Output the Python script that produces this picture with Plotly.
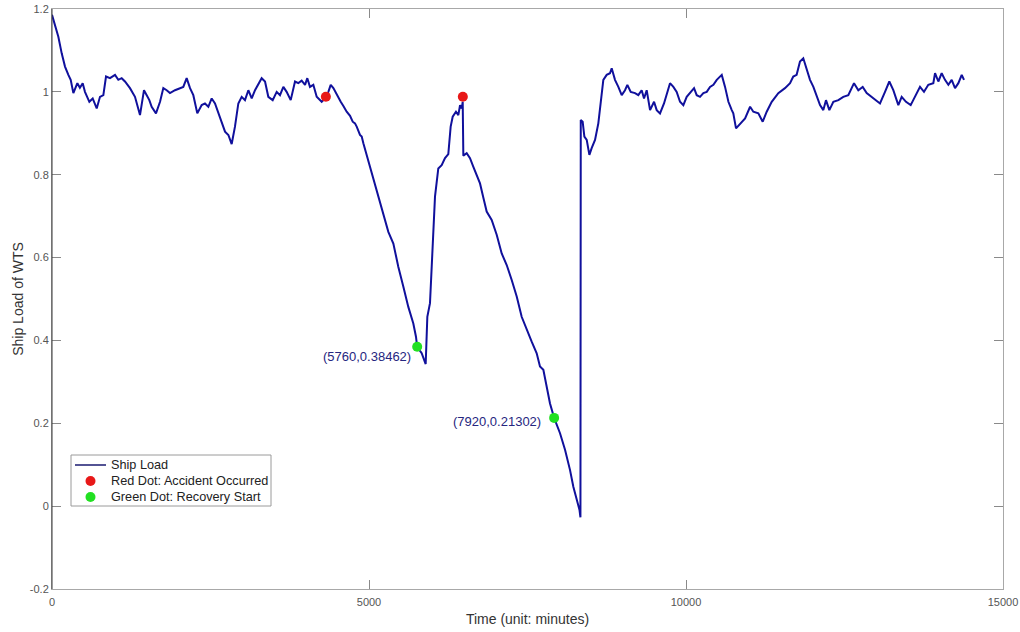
import plotly.graph_objects as go

# Ship load time series (minutes, load of WTS)
time_min = [
    0, 47, 100, 153, 205, 258, 295, 337, 370, 400, 440, 484, 520, 589, 642, 705, 757, 810, 852, 915,
    994, 1046, 1099, 1151, 1230, 1309, 1388, 1451, 1494, 1535, 1572, 1640, 1704, 1756, 1809, 1861,
    1940, 2019, 2071, 2124, 2177, 2229, 2292, 2361, 2413, 2466, 2519, 2571, 2624, 2676, 2729, 2782,
    2834, 2886, 2939, 2992, 3044, 3097, 3150, 3202, 3254, 3307, 3360, 3412, 3481, 3544, 3596, 3649,
    3701, 3765, 3833, 3885, 3938, 3991, 4027, 4069, 4122, 4175, 4254, 4306, 4359, 4396, 4438, 4480,
    4517, 4554, 4596, 4648, 4701, 4743, 4779, 4806, 4858, 4885, 4911, 4964, 5016, 5068, 5147, 5226,
    5305, 5384, 5462, 5541, 5620, 5699, 5741, 5760, 5831, 5894, 5920, 5962, 5998, 6041, 6093, 6146,
    6199, 6251, 6288, 6320, 6372, 6409, 6436, 6462, 6478, 6488, 6541, 6593, 6646, 6699, 6751, 6803,
    6856, 6935, 7014, 7093, 7172, 7251, 7330, 7408, 7487, 7566, 7645, 7697, 7750, 7803, 7855, 7920,
    8013, 8092, 8171, 8223, 8276, 8320, 8335, 8340, 8370, 8397, 8434, 8476, 8512, 8565, 8617, 8654,
    8696, 8749, 8801, 8828, 8880, 8933, 8986, 9038, 9075, 9128, 9196, 9248, 9301, 9338, 9380, 9433,
    9496, 9538, 9590, 9653, 9696, 9748, 9801, 9853, 9906, 9958, 10011, 10064, 10127, 10169, 10221,
    10274, 10327, 10379, 10432, 10485, 10537, 10564, 10616, 10669, 10722, 10746, 10789, 10853, 10932,
    11011, 11062, 11141, 11210, 11273, 11352, 11456, 11561, 11641, 11692, 11745, 11798, 11850, 11893,
    11956, 12009, 12061, 12114, 12166, 12208, 12261, 12324, 12403, 12481, 12560, 12650, 12718, 12787,
    12850, 12929, 13008, 13060, 13139, 13207, 13270, 13349, 13402, 13470, 13544, 13612, 13691, 13754,
    13822, 13901, 13928, 13980, 14033, 14085, 14138, 14191, 14243, 14296, 14349, 14385,
]
ship_load = [
    1.186, 1.161, 1.133, 1.093, 1.061, 1.041, 1.029, 0.997, 1.012, 1.021, 1.010, 1.021, 1.000, 0.976, 0.984, 0.960, 0.988, 0.992, 1.037, 1.033,
    1.041, 1.029, 1.033, 1.025, 1.009, 0.988, 0.944, 1.004, 0.992, 0.980, 0.964, 0.948, 0.976, 1.009, 1.004, 0.997,
    1.004, 1.009, 1.012, 1.033, 1.009, 0.992, 0.948, 0.968, 0.972, 0.964, 0.984, 0.972, 0.948, 0.924, 0.904, 0.896,
    0.874, 0.916, 0.972, 0.988, 0.980, 1.004, 0.984, 1.004, 1.017, 1.033, 1.025, 0.988, 0.980, 1.000, 0.992, 1.012,
    1.000, 0.980, 1.025, 1.021, 1.027, 1.017, 1.033, 1.012, 1.017, 0.988, 0.976, 0.984, 1.000, 1.017, 1.009, 0.997,
    0.984, 0.976, 0.966, 0.952, 0.942, 0.928, 0.924, 0.916, 0.896, 0.892, 0.876, 0.848, 0.819, 0.787, 0.747, 0.707,
    0.662, 0.634, 0.578, 0.530, 0.481, 0.441, 0.409, 0.38462, 0.369, 0.343, 0.457, 0.490, 0.602, 0.747, 0.815, 0.823,
    0.840, 0.850, 0.916, 0.940, 0.952, 0.944, 0.968, 0.960, 0.976, 0.846, 0.852, 0.840, 0.819, 0.799, 0.779, 0.745,
    0.711, 0.691, 0.655, 0.610, 0.582, 0.546, 0.506, 0.457, 0.425, 0.397, 0.369, 0.337, 0.329, 0.288, 0.248, 0.21302,
    0.176, 0.136, 0.087, 0.047, 0.015, -0.009, -0.027, 0.932, 0.928, 0.892, 0.884, 0.848, 0.864, 0.884, 0.924, 0.980,
    1.029, 1.041, 1.045, 1.057, 1.029, 1.012, 0.992, 1.004, 1.017, 1.000, 0.997, 0.992, 1.004, 0.984, 1.004, 0.956,
    0.976, 0.956, 0.948, 0.972, 0.997, 1.021, 1.012, 1.000, 0.976, 0.968, 0.988, 0.997, 1.009, 0.992, 0.988,
    0.997, 1.000, 1.012, 1.017, 1.029, 1.037, 1.041, 1.012, 0.976, 0.956, 0.948, 0.912, 0.924, 0.936,
    0.964, 0.952, 0.948, 0.928, 0.952, 0.976, 0.997, 1.009, 1.021, 1.037, 1.041, 1.073, 1.081, 1.061,
    1.029, 1.012, 0.992, 0.968, 0.956, 0.980, 0.956, 0.976, 0.980, 0.988, 0.992, 1.021, 1.004, 1.012,
    0.997, 0.988, 0.980, 0.972, 1.000, 1.025, 1.004, 0.968, 0.988, 0.976, 0.968, 0.988, 1.012, 1.000,
    1.017, 1.021, 1.045, 1.025, 1.045, 1.029, 1.017, 1.029, 1.009, 1.021, 1.041, 1.029,
]

# Accident and recovery events
accident_time = [4320, 6480]
accident_load = [0.988, 0.988]
recovery_time = [5760, 7920]
recovery_load = [0.38462, 0.21302]
recovery_labels = ["(5760,0.38462)", "(7920,0.21302)"]

x_ticks = [0, 5000, 10000, 15000]
y_ticks = [-0.2, 0, 0.2, 0.4, 0.6, 0.8, 1, 1.2]
y_tick_text = ["-0.2", "0", "0.2", "0.4", "0.6", "0.8", "1", "1.2"]

legend_labels = ["Ship Load", "Red Dot: Accident Occurred", "Green Dot: Recovery Start"]

FONT = "Arial, 'Liberation Sans', Helvetica, sans-serif"
LINE_BLUE = "#10109c"
TEXT_NAVY = "#262680"
RED = "#e81818"
GREEN = "#22e022"

W, H = 1020, 632
ML, MR, MT, MB = 52, 17, 9, 43
PW, PH = W - ML - MR, H - MT - MB


def px_x(p):
    """Pixel column -> paper x fraction."""
    return (p - ML) / PW


def px_y(p):
    """Pixel row -> paper y fraction."""
    return (H - MB - p) / PH


fig = go.Figure()
fig.add_trace(go.Scatter(
    x=time_min, y=ship_load, mode="lines", name=legend_labels[0],
    line=dict(color=LINE_BLUE, width=2),
))
fig.add_trace(go.Scatter(
    x=accident_time, y=accident_load, mode="markers", name=legend_labels[1],
    marker=dict(color=RED, size=10),
))
fig.add_trace(go.Scatter(
    x=recovery_time, y=recovery_load, mode="markers", name=legend_labels[2],
    marker=dict(color=GREEN, size=10),
))

# Coordinate labels next to the recovery points
label_shifts = [(-4, -10), (-11, -4)]
for t, v, txt, (dx, dy) in zip(recovery_time, recovery_load, recovery_labels, label_shifts):
    fig.add_annotation(
        x=t, y=v, text=txt, showarrow=False, xanchor="right", yanchor="middle",
        xshift=dx, yshift=dy, font=dict(family=FONT, size=13, color=TEXT_NAVY),
    )

axis_common = dict(
    ticks="inside", ticklen=9, tickcolor="#8a8a8a", tickwidth=1,
    showline=True, linecolor="#a8a8a8", linewidth=1, mirror="ticks",
    showgrid=False, zeroline=False, automargin=False,
    tickfont=dict(family=FONT, size=11, color="#555555"),
)

fig.update_xaxes(
    range=[0, 15000], tickvals=x_ticks, ticktext=[str(v) for v in x_ticks],
    ticklabelstandoff=3,
    title=dict(text="Time (unit: minutes)", font=dict(family=FONT, size=14, color="#333333"), standoff=6),
    **axis_common,
)
fig.update_yaxes(
    range=[-0.2, 1.2], tickvals=y_ticks, ticktext=y_tick_text,
    title=dict(text="Ship Load of WTS", font=dict(family=FONT, size=14, color="#333333"), standoff=2),
    **axis_common,
)

shapes = [
    # darker left axis spine
    dict(type="line", xref="paper", yref="paper", x0=0, x1=0, y0=0, y1=1,
         line=dict(color="#3a3a3a", width=1)),
    # legend box
    dict(type="rect", xref="paper", yref="paper",
         x0=px_x(71), x1=px_x(271), y0=px_y(506), y1=px_y(455),
         line=dict(color="#9a9a9a", width=1), fillcolor="white"),
    # legend line sample
    dict(type="line", xref="paper", yref="paper",
         x0=px_x(75), x1=px_x(106), y0=px_y(465), y1=px_y(465),
         line=dict(color="#1a1a70", width=1.5)),
]
for row, colr in zip([481, 497], [RED, GREEN]):
    shapes.append(dict(
        type="circle", xref="paper", yref="paper",
        xsizemode="pixel", ysizemode="pixel",
        xanchor=px_x(90.5), yanchor=px_y(row),
        x0=-5, x1=5, y0=-5, y1=5,
        line=dict(color=colr, width=0), fillcolor=colr,
    ))
fig.update_layout(shapes=shapes)

for label, row in zip(legend_labels, [465, 481, 497]):
    fig.add_annotation(
        xref="paper", yref="paper", x=px_x(109), y=px_y(row), text=label,
        showarrow=False, xanchor="left", yanchor="middle",
        font=dict(family=FONT, size=12.7, color="#222222"),
    )

fig.update_layout(
    width=W, height=H,
    margin=dict(l=ML, r=MR, t=MT, b=MB),
    paper_bgcolor="white", plot_bgcolor="white",
    font=dict(family=FONT),
    showlegend=False,
)

fig.write_html("out.html")
